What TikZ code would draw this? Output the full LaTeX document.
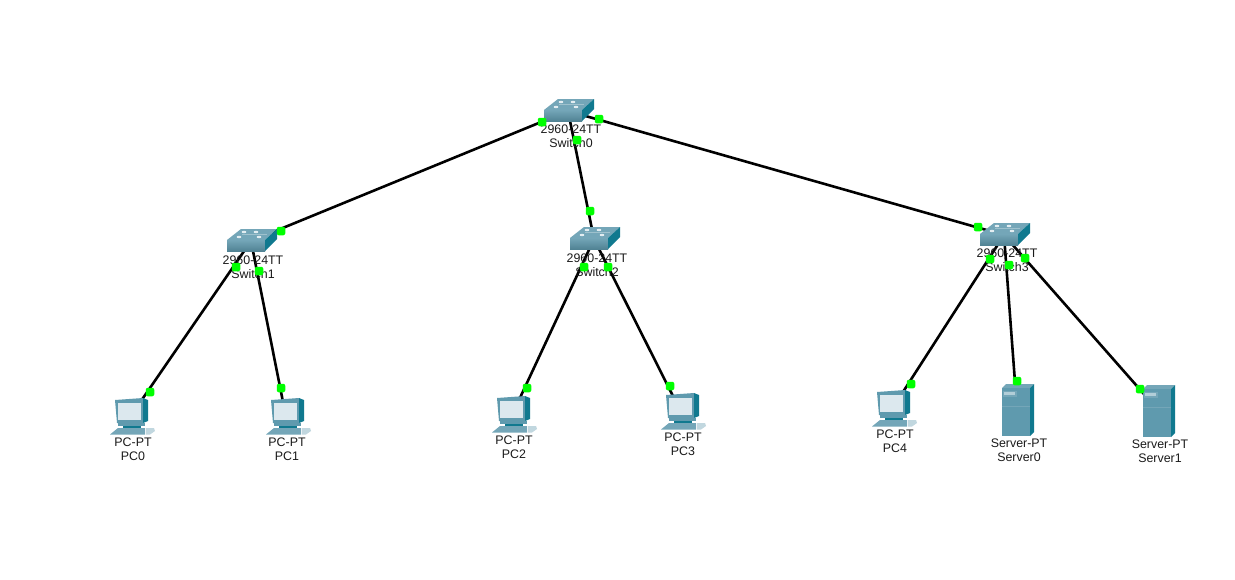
\documentclass[tikz,border=0pt]{standalone}
\usepackage{fontspec}
\setmainfont{Liberation Sans}
\definecolor{facemain}{HTML}{5F9AAE}
\definecolor{facetop}{HTML}{74A6B8}
\definecolor{facedark}{HTML}{10798F}
\definecolor{screenc}{HTML}{DCE8EE}
\definecolor{linkc}{HTML}{00FF00}
\definecolor{textc}{HTML}{1A1A1A}
\tikzset{
  x=1pt,y=-1pt,
  device/.style={inner sep=0pt,minimum size=0pt,outer sep=0pt},
  link/.style={draw=black,line width=2.6pt},
  portdot/.style={rectangle,rounded corners=2pt,fill=linkc,inner sep=0pt,minimum size=8.5pt},
  devlabel/.style={font=\fontsize{12.4}{14}\selectfont,text=textc,inner sep=0pt,align=center},
  pics/ciscoswitch/.style={code={
    \fill[facetop] (-24,-1) -- (-10,-12) -- (26,-12) -- (14,-1) -- cycle;
    \shade[top color=facetop,bottom color=facemain!85!black] (-24,-1) rectangle (14,10);
    \fill[facedark] (14,-1) -- (26,-12) -- (26,-2) -- (14,10) -- cycle;
    \foreach \p in {(-7,-9),(5,-9),(-12,-4),(8,-4)}
      \fill[white!80!facetop] \p ellipse (2.4 and 1.2);
    \draw[white!30!facetop,line width=.6pt] (-9,-6.5) -- (16,-6.5);
  }},
  pics/ciscopc/.style={code={
    \fill[facemain] (-15,-17) -- (13,-19) -- (13,6) -- (-13,6) -- cycle;
    \fill[facedark] (13,-19) -- (18,-17) -- (18,4) -- (13,6) -- cycle;
    \fill[screenc] (-12,-14) -- (10.5,-14) -- (10.5,3) -- (-12,3) -- cycle;
    \fill[facemain] (-12,6) -- (15,6) -- (15,9) -- (-12,9) -- cycle;
    \fill[facedark] (-7,9) rectangle (11,12);
    \fill[facetop] (-20,17.5) -- (-12,11) -- (15,11) -- (15,17.5) -- cycle;
    \fill[white!55!facetop] (16,11) -- (24,11) -- (25,14) -- (20,17.5) -- (16,17.5) -- cycle;
  }},
  pics/ciscoserver/.style={code={
    \fill[facetop] (-15,-21) -- (-11,-25) -- (17,-25) -- (13,-21) -- cycle;
    \fill[facemain] (-15,-21) rectangle (13,27);
    \fill[facedark] (13,-21) -- (17,-25) -- (17,23) -- (13,27) -- cycle;
    \fill[facetop] (-14,-18) rectangle (0,-12);
    \fill[white!45!facetop] (-13,-17) rectangle (-2,-14);
    \draw[facetop,line width=.5pt] (-15,-3) -- (13,-3);
  }}
}
\begin{document}
\begin{tikzpicture}
\useasboundingbox (0,0) rectangle (1235,579);
\fill[white] (0,0) rectangle (1235,579);
% devices
\node[device] (sw0) at (568,111) {};
\node[device] (sw1) at (251,241) {};
\node[device] (sw2) at (594,239) {};
\node[device] (sw3) at (1004,235) {};
\node[device] (pc0) at (130,417) {};
\node[device] (pc1) at (286,417) {};
\node[device] (pc2) at (512,415) {};
\node[device] (pc3) at (681,412) {};
\node[device] (pc4) at (892,409) {};
\node[device] (srv0) at (1017,409) {};
\node[device] (srv1) at (1158,410) {};
% connectors
\draw[link] (sw0) -- (sw1);
\draw[link] (sw0) -- (sw2);
\draw[link] (sw0) -- (sw3);
\draw[link] (sw1) -- (pc0);
\draw[link] (sw1) -- (pc1);
\draw[link] (sw2) -- (pc2);
\draw[link] (sw2) -- (pc3);
\draw[link] (sw3) -- (pc4);
\draw[link] (sw3) -- (srv0);
\draw[link] (sw3) -- (srv1);
% icons
\pic at (sw0) {ciscoswitch};
\pic at (sw1) {ciscoswitch};
\pic at (sw2) {ciscoswitch};
\pic at (sw3) {ciscoswitch};
\pic at (pc0) {ciscopc};
\pic at (pc1) {ciscopc};
\pic at (pc2) {ciscopc};
\pic at (pc3) {ciscopc};
\pic at (pc4) {ciscopc};
\pic at (srv0) {ciscoserver};
\pic at (srv1) {ciscoserver};
% labels
\node[devlabel] (lsw0) at (571,129) {2960-24TT};
\node[devlabel] (nsw0) at (571,143) {Switch0};
\node[devlabel] (lsw1) at (253,260) {2960-24TT};
\node[devlabel] (nsw1) at (253,274) {Switch1};
\node[devlabel] (lsw2) at (597,258) {2960-24TT};
\node[devlabel] (nsw2) at (597,272) {Switch2};
\node[devlabel] (lsw3) at (1007,253) {2960-24TT};
\node[devlabel] (nsw3) at (1007,267) {Switch3};
\node[devlabel] (lpc0) at (133,442) {PC-PT};
\node[devlabel] (npc0) at (133,456) {PC0};
\node[devlabel] (lpc1) at (287,442) {PC-PT};
\node[devlabel] (npc1) at (287,456) {PC1};
\node[devlabel] (lpc2) at (514,440) {PC-PT};
\node[devlabel] (npc2) at (514,454) {PC2};
\node[devlabel] (lpc3) at (683,437) {PC-PT};
\node[devlabel] (npc3) at (683,451) {PC3};
\node[devlabel] (lpc4) at (895,434) {PC-PT};
\node[devlabel] (npc4) at (895,448) {PC4};
\node[devlabel] (lsrv0) at (1019,443) {Server-PT};
\node[devlabel] (nsrv0) at (1019,457) {Server0};
\node[devlabel] (lsrv1) at (1160,444) {Server-PT};
\node[devlabel] (nsrv1) at (1160,458) {Server1};
% port lights
\foreach \n/\x/\y in {a/542/122,b/281/231,c/577/140,d/590/211,e/599/119,f/978/227,
  g/236/267,h/150/392,i/259/271,j/281/388,k/584/267,l/527/388,m/608/267,n/670/386,
  o/990/259,p/911/384,q/1009/265,r/1017/381,s/1025/258,t/1140/389}
  \node[portdot] (port\n) at (\x,\y) {};
\end{tikzpicture}
\end{document}
